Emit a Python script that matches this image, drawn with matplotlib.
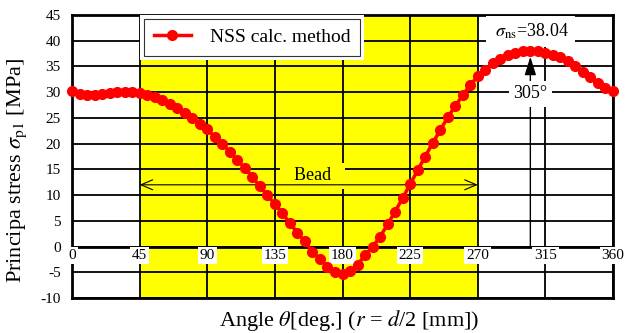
import numpy as np
import matplotlib
matplotlib.use('Agg')
import matplotlib.pyplot as plt
from matplotlib.patches import Rectangle
from matplotlib.transforms import IdentityTransform

plt.rcParams['font.family'] = ['Liberation Serif', 'DejaVu Serif']
plt.rcParams['mathtext.fontset'] = 'stix'
plt.rcParams['axes.unicode_minus'] = False

# Angle [deg] and principal stress [MPa]
angle = list(range(0, 361, 5))
stress = [30.2, 29.7, 29.4, 29.4, 29.6, 29.9, 30.0, 30.1, 30.1, 29.8,
          29.4, 29.0, 28.4, 27.7, 26.9, 26.0, 25.0, 23.9, 22.8, 21.3,
          19.9, 18.4, 16.8, 15.3, 13.5, 11.7, 10.0, 8.2, 6.5, 4.5,
          2.7, 1.0, -1.0, -2.5, -3.9, -5.0, -5.3, -4.8, -3.5, -1.7,
          -0.1, 1.9, 4.3, 6.8, 9.4, 12.1, 14.8, 17.5, 20.1, 22.6,
          25.1, 27.3, 29.4, 31.4, 33.1, 34.4, 35.6, 36.5, 37.2, 37.7,
          37.95, 38.04, 37.95, 37.7, 37.3, 36.8, 36.0, 35.1, 34.0, 32.9,
          31.8, 30.8, 30.2]

xticks = [0, 45, 90, 135, 180, 225, 270, 315, 360]
xtick_labels = [str(v) for v in xticks]
yticks = list(range(-10, 46, 5))

bead_range = (45, 270)
peak_angle = 305
peak_value = 38.04

fig = plt.figure(figsize=(6.27, 3.33), dpi=100)
ax = fig.add_axes([72 / 627, 1 - 298 / 333, 541 / 627, 283 / 333])

ax.set_xlim(0, 360)
ax.set_ylim(-10, 45)
ax.set_xticks(xticks)
ax.set_yticks(yticks)
ax.set_xticklabels([])
ax.tick_params(axis='both', length=0)
ax.tick_params(axis='y', labelsize=11, pad=8)

ax.set_axisbelow(True)
ax.grid(True, color='k', lw=1.3)
ax.axvspan(*bead_range, color='#ffff00', zorder=0.2, lw=0)
for s in ax.spines.values():
    s.set_linewidth(2)
ax.axhline(0, color='k', lw=2, zorder=1)

# x tick labels sit on the zero line with white boxes
for v, lab in zip(xticks, xtick_labels):
    ax.text(v, -0.45, lab, ha='center', va='top', fontsize=11, zorder=3,
            bbox=dict(boxstyle='square,pad=0.12', fc='white', ec='none'))

ax.plot(angle, stress, '-o', color='red', lw=2.5, ms=7, clip_on=False,
        zorder=5, label='NSS calc. method')

# bead extent
ax.annotate('', xy=(bead_range[0], 12), xytext=(bead_range[1], 12),
            arrowprops=dict(arrowstyle='<->,head_length=0.7,head_width=0.3',
                            lw=0.8, color='k', shrinkA=0, shrinkB=0,
                            mutation_scale=12), zorder=4)
ax.text(160, 13.8, '  Bead  ', ha='center', va='center', fontsize=13, zorder=3,
        bbox=dict(boxstyle='square,pad=0.25', fc='#ffff00', ec='none'))

# peak marker
ax.annotate('', xy=(peak_angle, 36.9), xytext=(peak_angle, 0),
            arrowprops=dict(arrowstyle='-|>,head_length=0.8,head_width=0.25',
                            lw=1, color='k', shrinkA=0, shrinkB=0,
                            mutation_scale=14), zorder=4)
ax.text(peak_angle, 29.7, '305°', ha='center', va='center', fontsize=13, zorder=4,
        bbox=dict(boxstyle='square,pad=0.25', fc='white', ec='none'))
ax.text(peak_angle, 41.8, r' $\sigma_{\rm ns}$=%.2f ' % peak_value, ha='center',
        va='center', fontsize=13, zorder=4,
        bbox=dict(boxstyle='square,pad=0.3', fc='white', ec='none'))

leg = ax.legend(loc='upper left', bbox_to_anchor=(0.133, 0.986), borderaxespad=0,
                fontsize=14, frameon=True, fancybox=False, framealpha=1,
                edgecolor='#333333', handlelength=1.9, handletextpad=1.0,
                borderpad=0.5)
leg.get_frame().set_linewidth(0.8)
leg.set_zorder(7)

ax.set_xlabel(r'Angle $\theta$[deg.] ($r$ = $d$/2 [mm])', fontsize=16)
ax.xaxis.set_label_coords(0.512, -0.035)
ax.set_ylabel(r'Principa stress $\sigma_{\rm p1}$ [MPa]', fontsize=16)
ax.yaxis.set_label_coords(-0.08, 0.452)

# white margin around legend box
fig.canvas.draw()
bb = leg.get_window_extent()
ax.add_patch(Rectangle((bb.x0 - 4, bb.y0 - 4), bb.width + 8, bb.height + 8,
                       transform=IdentityTransform(), fc='white', ec='none',
                       zorder=6, clip_on=False))

fig.savefig('out.png', dpi=100)
